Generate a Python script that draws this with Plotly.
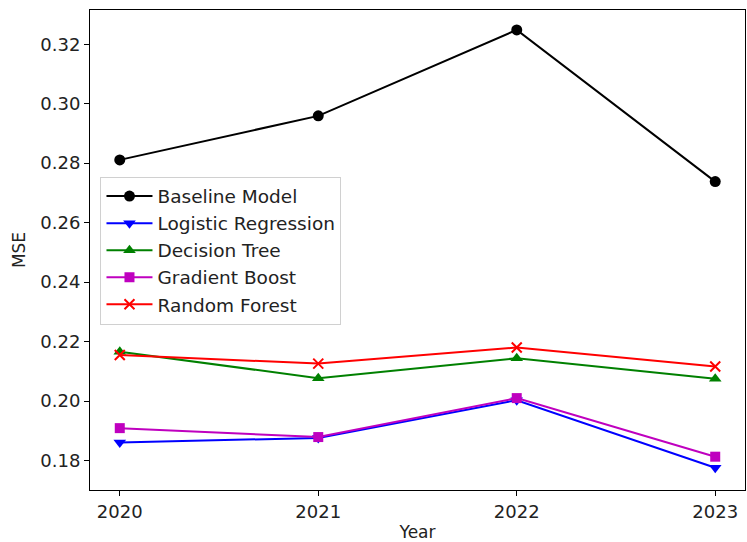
import plotly.graph_objects as go

years = [2020, 2021, 2022, 2023]
baseline = [0.2811, 0.2959, 0.3248, 0.2738]
logistic = [0.1861, 0.1876, 0.2003, 0.1776]
decision_tree = [0.2166, 0.2077, 0.2144, 0.2075]
gradient_boost = [0.1909, 0.1879, 0.2010, 0.1813]
random_forest = [0.2155, 0.2126, 0.2180, 0.2116]

y_ticks = [0.18, 0.20, 0.22, 0.24, 0.26, 0.28, 0.30, 0.32]

series = [
    ("Baseline Model", baseline, "black", "circle"),
    ("Logistic Regression", logistic, "#0000ff", "triangle-down"),
    ("Decision Tree", decision_tree, "#008000", "triangle-up"),
    ("Gradient Boost", gradient_boost, "#bf00bf", "square"),
    ("Random Forest", random_forest, "#ff0000", "x-thin"),
]

fig = go.Figure()
for name, vals, color, symbol in series:
    marker = dict(symbol=symbol, color=color, size=11)
    if symbol == "x-thin":
        marker["size"] = 10
        marker["line"] = dict(color=color, width=2)
    elif symbol == "square":
        marker["size"] = 10
    fig.add_trace(go.Scatter(
        x=years, y=vals, name=name, mode="lines+markers",
        line=dict(color=color, width=2), marker=marker,
        legendgroup=name,
    ))

fig.update_layout(
    width=747, height=542,
    margin=dict(l=90, r=2, t=10, b=52),
    paper_bgcolor="white", plot_bgcolor="white",
    font=dict(family="DejaVu Sans", size=17, color="#222"),
    legend=dict(
        x=0.016, y=0.653, xanchor="left", yanchor="top",
        bgcolor="rgba(255,255,255,0.8)", bordercolor="#d0d0d0", borderwidth=1,
        font=dict(size=18.5, color="#222"), tracegroupgap=0, itemwidth=46,
    ),
    showlegend=True,
)
fig.update_xaxes(
    range=[2019.85, 2023.15], tickvals=years, ticktext=[str(y) for y in years],
    showgrid=False, zeroline=False, showline=True, linecolor="black", linewidth=1,
    mirror=True, ticks="outside", ticklen=5, tickcolor="black",
    tickfont=dict(size=18),
    title=dict(text="Year", standoff=8, font=dict(size=17)),
)
fig.update_yaxes(
    range=[0.1701, 0.3315], tickvals=y_ticks, tickformat=".2f",
    showgrid=False, zeroline=False, showline=True, linecolor="black", linewidth=1,
    mirror=True, ticks="outside", ticklen=5, tickcolor="black",
    tickfont=dict(size=18),
    title=dict(text="MSE", standoff=10, font=dict(size=17)),
)

fig.write_html("out.html")
